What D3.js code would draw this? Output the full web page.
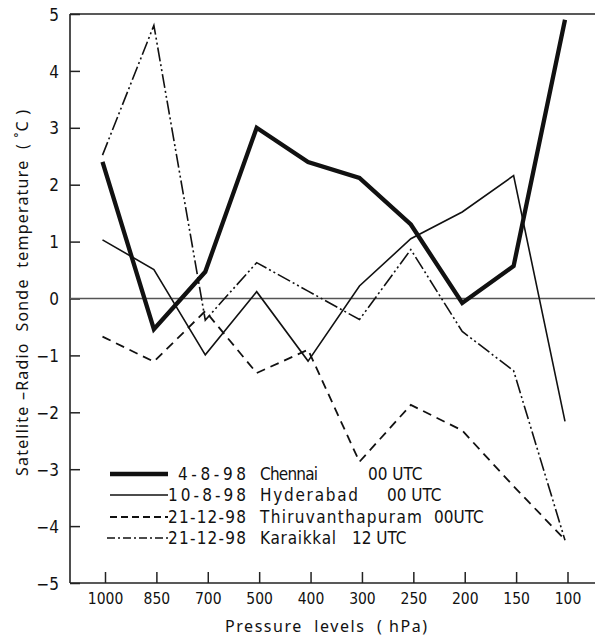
<!DOCTYPE html>
<html><head><meta charset="utf-8">
<script src="https://cdn.jsdelivr.net/npm/d3@7"></script>
<style>
body{margin:0;background:#fff;}
svg text{font-family:"Noto Sans","DejaVu Sans",sans-serif;fill:#111;}
</style></head>
<body><svg id="c" width="595" height="637"></svg>
<script>
const levels = ["1000","850","700","500","400","300","250","200","150","100"];
const chennai = [2.4,-0.54,0.47,3.0,2.4,2.12,1.3,-0.08,0.57,4.9];
const hyderabad = [1.03,0.51,-0.99,0.12,-1.1,0.22,1.05,1.52,2.16,-2.16];
const thiruvanthapuram = [-0.67,-1.11,-0.22,-1.31,-0.9,-2.87,-1.87,-2.32,-3.3,-4.24];
const karaikkal = [2.52,4.8,-0.38,0.63,0.13,-0.37,0.86,-0.58,-1.27,-4.25];
const yTicks = [-5,-4,-3,-2,-1,0,1,2,3,4,5];
const legendDates = ["4-8-98","10-8-98","21-12-98","21-12-98"];
const legendPlaces = ["Chennai","Hyderabad","Thiruvanthapuram","Karaikkal"];
const legendTimes = ["00 UTC","00 UTC","00UTC","12 UTC"];
const yTitle = "Satellite –Radio  Sonde  temperature  ( ˚C )";
const xTitle = "Pressure  levels  ( hPa)";

(function(){
const series = [
  {values: chennai, width: 4.3, dash: null},
  {values: hyderabad, width: 1.6, dash: null},
  {values: thiruvanthapuram, width: 1.8, dash: "9,6"},
  {values: karaikkal, width: 1.6, dash: "14,3,2,3,2,3"}
];

const svg = d3.select("#c");
const pL = 70, pR = 595, pT = 14, pB = 583;
const x = d3.scalePoint().domain(levels).range([102.5, 565]);
const y = d3.scaleLinear().domain([-5,5]).range([pB, pT]);
const condensed = "'DejaVu Sans Condensed','DejaVu Sans',sans-serif";

// frame top
svg.append("line").attr("x1",pL).attr("x2",pR).attr("y1",pT).attr("y2",pT).attr("stroke","#222").attr("stroke-width",1.6);

// y axis
const yAxis = d3.axisRight(y).tickValues(yTicks).tickSize(10).tickFormat(d => d<0 ? "−"+Math.abs(d) : d);
const gy = svg.append("g").attr("transform",`translate(${pL},0)`).call(yAxis);
gy.select(".domain").attr("stroke","#222").attr("stroke-width",1.6).attr("d",`M0,${pT}V${pB}`);
gy.selectAll(".tick line").attr("stroke","#222").attr("stroke-width",1.5);
gy.selectAll(".tick text").attr("x",-11).attr("text-anchor","end").attr("font-size",17).attr("dy","0.36em")
  .style("font-family",condensed);

// x axis
const xAxis = d3.axisTop(x).tickSize(11).tickSizeOuter(0);
const gx = svg.append("g").attr("transform",`translate(0,${pB})`).call(xAxis);
gx.selectAll(".tick").attr("transform", d => `translate(${x(d)+3},0)`);
gx.select(".domain").attr("stroke","#222").attr("stroke-width",1.6).attr("d",`M${pL},0H${pR}`);
gx.selectAll(".tick line").attr("stroke","#222").attr("stroke-width",1.5);
gx.selectAll(".tick text").attr("y",10).attr("dy","0.71em").attr("font-size",15.5).attr("text-anchor","middle")
  .style("font-family",condensed);

// zero line
svg.append("line").attr("x1",pL).attr("x2",pR).attr("y1",y(0)).attr("y2",y(0)).attr("stroke","#555").attr("stroke-width",1.3);

// series
const line = d3.line().x((d,i)=>x(levels[i])).y(d=>y(d));
series.forEach(s => {
  svg.append("path").attr("d", line(s.values)).attr("fill","none").attr("stroke","#111")
    .attr("stroke-width", s.width).attr("stroke-dasharray", s.dash).attr("stroke-linejoin","miter");
});

// legend
const legY = [474, 495, 517, 538];
const lineX = [[110,168],[110,168],[110,168],[107,168]];
const dateX = [178, 168, 168, 168];
const placeEnd = [318, 358, 422, 336];
const timeX = [368, 387, 434, 352];
const fs = 17;
series.forEach((s,i) => {
  svg.append("line").attr("x1",lineX[i][0]).attr("x2",lineX[i][1]).attr("y1",legY[i]).attr("y2",legY[i])
    .attr("stroke","#111").attr("stroke-width",s.width).attr("stroke-dasharray", s.dash ? (i===2?"7,4":"8,3,2,3") : null);
  svg.append("text").attr("x",dateX[i]).attr("y",legY[i]).attr("dy","0.36em").attr("font-size",fs).style("font-family",condensed)
    .attr("textLength",246-dateX[i]).attr("lengthAdjust","spacing").text(legendDates[i]);
  svg.append("text").attr("x",260).attr("y",legY[i]).attr("dy","0.36em").attr("font-size",fs).style("font-family",condensed)
    .attr("textLength",placeEnd[i]-260).attr("lengthAdjust","spacing").text(legendPlaces[i]);
  svg.append("text").attr("x",timeX[i]).attr("y",legY[i]).attr("dy","0.36em").attr("font-size",fs).style("font-family",condensed)
    .text(legendTimes[i]);
});

// titles
svg.append("text").attr("transform",`translate(22,${293}) rotate(-90)`).attr("text-anchor","middle")
  .attr("font-size",16).attr("dy","0.36em").style("white-space","pre")
  .attr("textLength",366).attr("lengthAdjust","spacing").text(yTitle);
svg.append("text").attr("x",326).attr("y",632).attr("text-anchor","middle").attr("font-size",16)
  .style("white-space","pre").attr("textLength",202).attr("lengthAdjust","spacing").text(xTitle);
})();
</script></body></html>
